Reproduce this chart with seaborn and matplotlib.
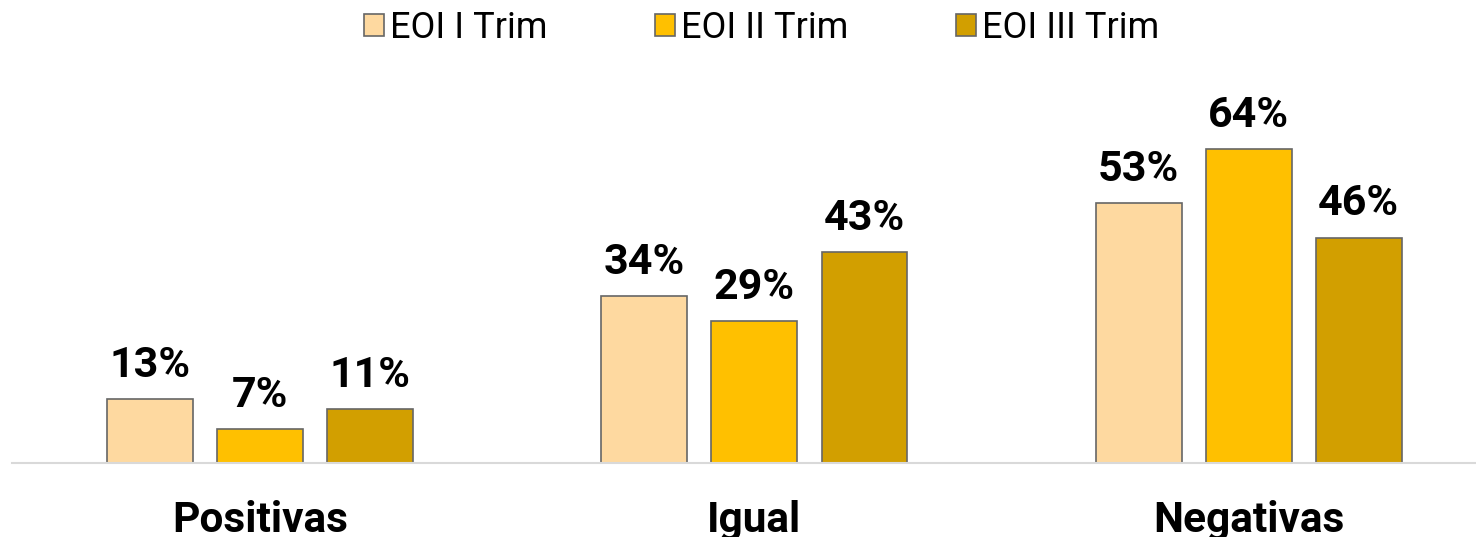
import matplotlib
matplotlib.use("Agg")
import matplotlib.pyplot as plt
import matplotlib.transforms as mtransforms
import seaborn as sns
import pandas as pd

categories = ["Positivas", "Igual", "Negativas"]
series = ["EOI I Trim", "EOI II Trim", "EOI III Trim"]
eoi_1 = [13, 34, 53]
eoi_2 = [7, 29, 64]
eoi_3 = [11, 43, 46]
colors = ["#FED9A0", "#FFC000", "#D29F00"]

rows = []
for s, vals in zip(series, [eoi_1, eoi_2, eoi_3]):
    for c, v in zip(categories, vals):
        rows.append({"cat": c, "serie": s, "val": v})
df = pd.DataFrame(rows)

sns.set_theme(style="white")
plt.rcParams["font.family"] = ["Roboto", "DejaVu Sans"]

fig = plt.figure(figsize=(14.76, 5.37), dpi=100)
ax = fig.add_axes([12 / 1476, 74 / 537, 1 - 12 / 1476, 343 / 537])

sns.barplot(data=df, x="cat", y="val", hue="serie", order=categories,
            hue_order=series, palette=colors, width=0.668, gap=0.22,
            edgecolor="#666666", linewidth=1.2, saturation=1, ax=ax)

ax.set_ylim(0, 70)
ax.set_xlim(-0.502, 2.46)
for c in ax.containers:
    ax.bar_label(c, labels=[f"{int(v)}%" for v in c.datavalues], padding=9.5,
                 fontsize=31, fontweight="bold", color="black", clip_on=False)

handles, labels = ax.get_legend_handles_labels()
ax.get_legend().remove()
fig.legend(handles, labels, loc="center", bbox_to_anchor=(0.516, 0.948), ncol=3,
           frameon=False, fontsize=26, labelcolor="black", handlelength=0.55,
           handleheight=0.55, handletextpad=0.15, columnspacing=3.0)

for s in ["left", "right", "top"]:
    ax.spines[s].set_visible(False)
ax.spines["bottom"].set_color("#D9D9D9")
ax.spines["bottom"].set_linewidth(1.5)
ax.set_yticks([])
ax.set_xticks([])
ax.set_xlabel("")
ax.set_ylabel("")

trans = mtransforms.blended_transform_factory(ax.transData, fig.transFigure)
for i, c in enumerate(categories):
    ax.text(i, 5 / 537, c, transform=trans, ha="center", va="baseline",
            fontsize=30.5, fontweight="bold", color="black")

fig.savefig("out.png", dpi=100)
